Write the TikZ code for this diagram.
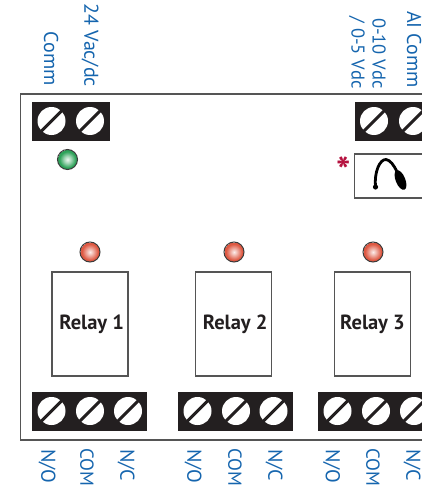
\documentclass[tikz,border=0pt]{standalone}
\usepackage{fontspec}
\setmainfont{PT Sans}
\definecolor{lblue}{HTML}{1565AE}
\definecolor{blk}{HTML}{231F20}
\definecolor{edge}{HTML}{555555}
\definecolor{star}{HTML}{B5123F}
\definecolor{ledgreen}{HTML}{2FA35A}
\definecolor{ledred}{HTML}{DE5A44}
\pgfdeclareradialshading{greenball}{\pgfpointorigin}{color(0bp)=(ledgreen!8!white); color(9bp)=(ledgreen!45!white); color(20bp)=(ledgreen); color(25bp)=(ledgreen)}
\pgfdeclareradialshading{redball}{\pgfpointorigin}{color(0bp)=(ledred!10!white); color(9bp)=(ledred!50!white); color(20bp)=(ledred); color(25bp)=(ledred)}
\tikzset{
  every picture/.style={x=1pt,y=-1pt},
  pin/.style={text=lblue,font=\fontsize{20}{20}\selectfont,rotate=-90,inner sep=0pt},
  pinvolt/.style={text=lblue,font=\fontsize{18.5}{19}\selectfont,rotate=-90,inner sep=0pt},
  pinsmall/.style={text=lblue,font=\fontsize{20}{20}\selectfont,rotate=-90,inner sep=0pt},
  pincom/.style={text=lblue,font=\fontsize{18.8}{20}\selectfont,rotate=-90,inner sep=0pt},
  relaybox/.style={draw=edge,line width=1.1pt,fill=white,minimum width=76pt,minimum height=104pt,inner sep=0pt,
     font=\bfseries\fontsize{20.5}{21}\selectfont,text=blk},
  terminalblock/.style={fill=blk,draw=none},
  board/.style={draw=edge,line width=1.2pt},
}
\newcommand{\screw}[2]{%
  \fill[white] (#1,#2) circle (14);
  \draw[blk,line width=3pt] (#1-12.5,#2+12.5) -- (#1+12.5,#2-12.5);
}
\newcommand{\led}[3]{%
  \shade[shading=#3] (#1,#2) circle (10);
  \draw[edge!70!black,line width=1pt] (#1,#2) circle (10);
}
\begin{document}
\begin{tikzpicture}
\useasboundingbox (0,0) rectangle (422,487);
\begin{scope}
\clip (0,0) rectangle (422,487);
% board
\draw[board] (440,94) -- (20.5,94) -- (20.5,440) -- (440,440);
% terminal blocks
\fill[terminalblock] (32,102) rectangle (110,141);
\screw{51.5}{121}\screw{90}{121}
\fill[terminalblock] (355,102) rectangle (440,141);
\screw{374}{121}\screw{413}{121}
\fill[terminalblock] (32,392) rectangle (147,431);
\screw{51.5}{411}\screw{90}{411}\screw{128}{411}
\fill[terminalblock] (178,392) rectangle (293,431);
\screw{197.5}{411}\screw{236}{411}\screw{273.5}{411}
\fill[terminalblock] (318,392) rectangle (440,431);
\screw{337.5}{411}\screw{376}{411}\screw{414}{411}
% LEDs
\led{67.5}{159.5}{greenball}
\led{90}{252}{redball}
\led{234}{252}{redball}
\led{373}{252}{redball}
% relays
\node[relaybox] (r1) at (90,324) {\hspace*{3.5pt}Relay 1};
\node[relaybox] (r2) at (233.5,324) {\hspace*{3.5pt}Relay 2};
\node[relaybox] (r3) at (372.5,324) {Relay 3};
% jumper box
\draw[edge,line width=1.1pt] (440,154) -- (354.5,154) -- (354.5,198) -- (440,198);
\draw[black,line width=2.8pt] (375.5,187) .. controls (374,172) and (380,159) .. (386,159.5) .. controls (390,160) and (394,165) .. (397,172);
\fill[black,rotate around={22:(400.5,180)}] (400.5,180) ellipse (4.8 and 10.5);
\fill[black] (375.5,187) circle (2.6);
\node[text=star,font=\bfseries\fontsize{38}{38}\selectfont,inner sep=0pt] (ast) at (344,171) {*};
% labels
\node[pin,anchor=east] (c1) at (51,86) {Comm};
\node[pin,anchor=east] (c2) at (90,87) {24 Vac/dc};
\node[pinvolt,anchor=east] (c3) at (357,89) {/ 0-5 Vdc};
\node[pinvolt,anchor=east] (c4) at (379,89) {0-10 Vdc};
\node[pin,anchor=east] (c5) at (414,88) {AI Comm};
\foreach \x/\n in {47/a,193/b,331.5/c}{
  \node[pinsmall,anchor=west] (no\n) at (\x,449) {N/O};
}
\foreach \x/\n in {87/a,235/b,373/c}{
  \node[pincom,anchor=west] (com\n) at (\x,448) {COM};
}
\foreach \x/\n in {126/a,274/b,412/c}{
  \node[pinsmall,anchor=west] (nc\n) at (\x,449) {N/C};
}
\end{scope}
\end{tikzpicture}
\end{document}
